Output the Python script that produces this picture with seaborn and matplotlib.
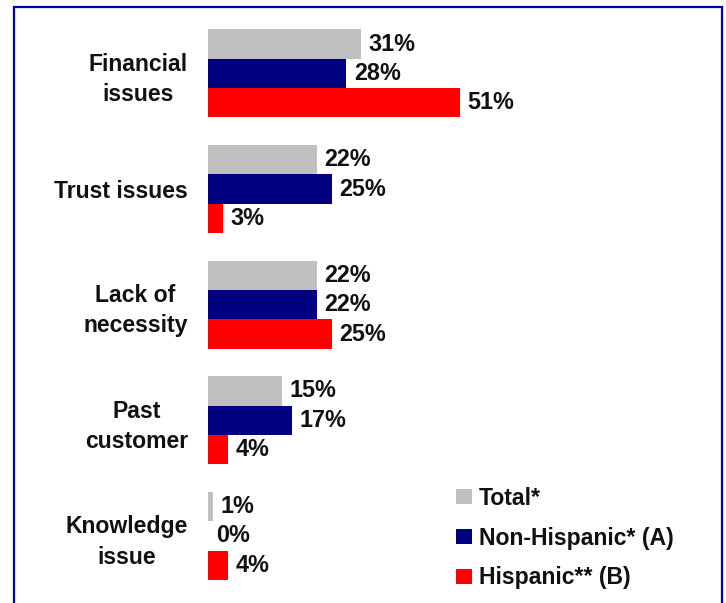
import matplotlib
matplotlib.use("Agg")
import matplotlib.pyplot as plt
import matplotlib.patches as mpatches
import seaborn as sns
import pandas as pd

categories = ["Financial\nissues", "Trust issues", "Lack of\nnecessity", "Past\ncustomer", "Knowledge\nissue"]
groups = ["Total*", "Non-Hispanic* (A)", "Hispanic** (B)"]
total = [31, 22, 22, 15, 1]
non_hispanic = [28, 25, 22, 17, 0]
hispanic = [51, 3, 25, 4, 4]
colors = ["#C0C0C0", "#000080", "#FF0000"]

rows = []
for g, vals in zip(groups, [total, non_hispanic, hispanic]):
    for c, v in zip(categories, vals):
        rows.append({"cat": c, "group": g, "value": v})
df = pd.DataFrame(rows)

sns.set_theme(style="white")
plt.rcParams["font.family"] = ["Liberation Sans", "DejaVu Sans"]

W, H = 726, 603
fig = plt.figure(figsize=(W / 100, H / 100), dpi=100)
ax_left = 208 / W
ax_width = 494 / W
ax_top = 1 - 15.6 / H
ax_bottom = 1 - 593.8 / H
ax = fig.add_axes([ax_left, ax_bottom, ax_width, ax_top - ax_bottom])

sns.barplot(data=df, y="cat", x="value", hue="group", order=categories,
            hue_order=groups, palette=colors, orient="h", width=0.762,
            saturation=1, legend=False, ax=ax, errorbar=None, linewidth=0)

for cont in ax.containers:
    ax.bar_label(cont, labels=[f"{b.get_width():.0f}%" for b in cont],
                 padding=5.5, fontsize=16.8, fontweight="bold", color="#111111")

ax.set_xlim(0, 100)
ax.set_ylim(4.5, -0.5)
ax.set_xlabel("")
ax.set_ylabel("")
ax.set_xticks([])
for s in ax.spines.values():
    s.set_visible(False)
ax.tick_params(axis="y", length=0, pad=14.5)
for lbl in ax.get_yticklabels():
    lbl.set_fontsize(16.6)
    lbl.set_fontweight("bold")
    lbl.set_multialignment("center")
    lbl.set_color("#111111")
    lbl.set_linespacing(1.4)

handles = [mpatches.Patch(facecolor=c, edgecolor="none", label=g) for c, g in zip(colors, groups)]
leg = fig.legend(handles=handles, loc="upper left", bbox_to_anchor=(456 / W, 1 - 487 / H),
                 frameon=False, prop={"size": 16.6, "weight": "bold"},
                 handlelength=0.7, handleheight=0.62, handletextpad=0.3,
                 labelspacing=0.72, borderaxespad=0, borderpad=0)
for t in leg.get_texts():
    t.set_color("#111111")

border = mpatches.Rectangle((13.5 / W, -0.05), (721.5 - 13.5) / W, 1.05 - 7 / H,
                            transform=fig.transFigure, fill=False,
                            edgecolor="#0000A0", linewidth=1.6, clip_on=False)
fig.patches.append(border)

fig.savefig("out.png", dpi=100)
